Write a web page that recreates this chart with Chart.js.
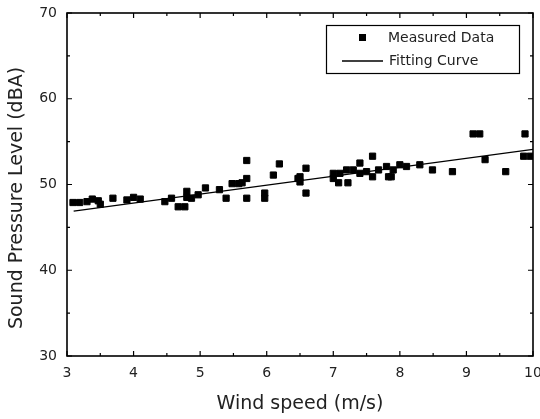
<!DOCTYPE html>
<html lang="en">

<head>
    <meta charset="UTF-8">
    <title>Sound Pressure Level vs Wind speed</title>
    <script src="https://cdn.jsdelivr.net/npm/chart.js@4.4.1/dist/chart.umd.min.js"></script>
    <style>
        body { margin: 0; background: #fff; }
        #wrap { width: 540px; height: 419px; }
    </style>
</head>

<body>
    <div id="wrap"><canvas id="noiseChart"></canvas></div>

    <script>
        // measured points
        const windSpeed = [
            3.09, 3.19, 3.3, 3.38, 3.47, 3.5, 3.69, 3.9, 4.0, 4.1,
            4.47, 4.57, 4.67, 4.77, 4.8, 4.8, 4.87, 4.97, 5.08, 5.29,
            5.39, 5.48, 5.58, 5.63, 5.7, 5.7, 5.7, 5.97, 5.97, 6.1,
            6.19, 6.47, 6.5, 6.5, 6.59, 6.59, 7.0, 7.0, 7.08, 7.22,
            7.1, 7.2, 7.3, 7.4, 7.4, 7.5, 7.59, 7.59, 7.68, 7.8,
            7.83, 7.87, 7.9, 8.0, 8.1, 8.3, 8.49, 8.79, 9.1, 9.2,
            9.28, 9.59, 9.88, 9.86, 9.96
        ];
        const soundLevel = [
            47.9, 47.9, 48.0, 48.3, 48.1, 47.7, 48.4, 48.2, 48.5, 48.3,
            48.0, 48.4, 47.4, 47.4, 49.2, 48.5, 48.4, 48.8, 49.6, 49.4,
            48.4, 50.1, 50.1, 50.2, 50.7, 52.8, 48.4, 49.0, 48.4, 51.1,
            52.4, 50.7, 50.9, 50.3, 51.9, 49.0, 51.3, 50.7, 50.2, 50.2,
            51.3, 51.7, 51.7, 52.5, 51.3, 51.5, 53.3, 50.9, 51.7, 52.1,
            50.9, 50.9, 51.7, 52.3, 52.1, 52.3, 51.7, 51.5, 55.9, 55.9,
            52.9, 51.5, 55.9, 53.3, 53.3
        ];
        // fitted line end points
        const fitX = [3.1, 10];
        const fitY = [46.9, 54.1];

        const xTicks = [3, 4, 5, 6, 7, 8, 9, 10];
        const yTicks = [30, 40, 50, 60, 70];

        const textColor = '#222';
        const fontFamily = '"DejaVu Sans", Verdana, sans-serif';

        // box round the plot with inward ticks on all four sides
        const framePlugin = {
            id: 'frame',
            afterDraw(chart) {
                const { ctx, chartArea: a, scales } = chart;
                ctx.save();
                ctx.strokeStyle = '#000';
                ctx.lineWidth = 1.6;
                ctx.strokeRect(a.left, a.top, a.right - a.left, a.bottom - a.top);
                ctx.lineWidth = 1.2;
                ctx.beginPath();
                for (let v = 3; v <= 10; v += 0.5) {
                    const px = scales.x.getPixelForValue(v);
                    const len = Number.isInteger(v) ? 5 : 3;
                    ctx.moveTo(px, a.bottom); ctx.lineTo(px, a.bottom - len);
                    ctx.moveTo(px, a.top); ctx.lineTo(px, a.top + len);
                }
                for (let v = 30; v <= 70; v += 5) {
                    const py = scales.y.getPixelForValue(v);
                    const len = v % 10 === 0 ? 5 : 3;
                    ctx.moveTo(a.left, py); ctx.lineTo(a.left + len, py);
                    ctx.moveTo(a.right, py); ctx.lineTo(a.right - len, py);
                }
                ctx.stroke();

                // y axis title, sits a bit lower than the plot centre
                ctx.fillStyle = textColor;
                ctx.font = '19px ' + fontFamily;
                ctx.textAlign = 'center';
                ctx.textBaseline = 'middle';
                ctx.translate(17, 198);
                ctx.rotate(-Math.PI / 2);
                ctx.fillText('Sound Pressure Level (dBA)', 0, 0);
                ctx.restore();
            }
        };

        // boxed legend in the upper right corner
        const legendPlugin = {
            id: 'boxLegend',
            afterDraw(chart) {
                const { ctx, chartArea: a } = chart;
                const ds = chart.data.datasets;
                const right = a.right - 14, top = a.top + 12;
                const w = 193, h = 48;
                const left = right - w;
                ctx.save();
                ctx.strokeStyle = '#000';
                ctx.lineWidth = 1.2;
                ctx.strokeRect(left + 0.5, top + 0.5, w, h);

                ctx.fillStyle = '#000';
                ctx.fillRect(left + 33, top + 9, 7, 7);
                ctx.lineWidth = 1.3;
                ctx.beginPath();
                ctx.moveTo(left + 16, top + 36);
                ctx.lineTo(left + 57, top + 36);
                ctx.stroke();

                ctx.fillStyle = textColor;
                ctx.font = '14px ' + fontFamily;
                ctx.textBaseline = 'middle';
                ctx.fillText(ds[0].label, left + 62, top + 13);
                ctx.fillText(ds[1].label, left + 63, top + 36);
                ctx.restore();
            }
        };

        const ctx = document.getElementById('noiseChart').getContext('2d');
        new Chart(ctx, {
            type: 'scatter',
            data: {
                datasets: [{
                    label: 'Measured Data',
                    data: windSpeed.map((x, i) => ({ x: x, y: soundLevel[i] })),
                    pointStyle: 'rect',
                    pointRadius: 4.4,
                    pointBorderWidth: 1,
                    backgroundColor: '#000',
                    borderColor: '#000'
                }, {
                    label: 'Fitting Curve',
                    type: 'line',
                    data: fitX.map((x, i) => ({ x: x, y: fitY[i] })),
                    borderColor: '#000',
                    borderWidth: 1.4,
                    pointRadius: 0,
                    fill: false
                }]
            },
            options: {
                responsive: true,
                maintainAspectRatio: false,
                animation: false,
                layout: { padding: { top: 13, right: 7, left: 0, bottom: 0 } },
                plugins: {
                    legend: { display: false },
                    tooltip: { enabled: false }
                },
                scales: {
                    x: {
                        type: 'linear',
                        min: 3,
                        max: 10,
                        afterBuildTicks: s => { s.ticks = xTicks.map(v => ({ value: v })); },
                        afterFit: s => {
                            s.height = 63;
                            s.paddingLeft = 0; s.paddingRight = 0;
                            s.paddingTop = 0; s.paddingBottom = 0;
                        },
                        grid: { display: false, drawTicks: false },
                        border: { display: false },
                        ticks: {
                            color: textColor,
                            padding: 9,
                            font: { family: fontFamily, size: 14 }
                        },
                        title: {
                            display: true,
                            text: 'Wind speed (m/s)',
                            color: textColor,
                            padding: { top: 0, bottom: 4 },
                            font: { family: fontFamily, size: 19 }
                        }
                    },
                    y: {
                        min: 30,
                        max: 70,
                        afterBuildTicks: s => { s.ticks = yTicks.map(v => ({ value: v })); },
                        afterFit: s => {
                            s.width = 67;
                            s.paddingLeft = 0; s.paddingRight = 0;
                            s.paddingTop = 0; s.paddingBottom = 0;
                        },
                        grid: { display: false, drawTicks: false },
                        border: { display: false },
                        ticks: {
                            color: textColor,
                            padding: 10,
                            font: { family: fontFamily, size: 14 }
                        }
                    }
                }
            },
            plugins: [framePlugin, legendPlugin]
        });
    </script>
</body>

</html>
